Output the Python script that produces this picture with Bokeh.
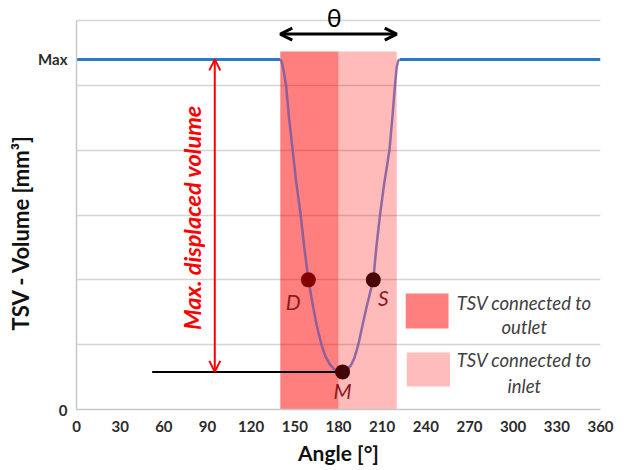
from bokeh.plotting import figure
from bokeh.models import Range1d, FixedTicker, Arrow, OpenHead, Label, Title
from bokeh.core.properties import value
from bokeh.embed import file_html
from bokeh.resources import INLINE

# Volume of one TSV over a full revolution (arbitrary units, Max = 5.4)
MAX_VOL = 5.4
flat_left_angle = [0, 140]
flat_right_angle = [222, 360]
cycle_angle = [140, 141, 142.5, 144, 146, 148.5, 151, 154, 156.5, 159.3, 162, 165,
               168.3, 171, 174, 177, 180, 182.8, 185.5, 188.5, 191, 193.6, 196.5,
               199.5, 203.9, 206, 208.5, 211.5, 215, 217, 218.8, 220, 221, 222]
cycle_volume = [5.4, 5.36, 5.2, 5.0, 4.5, 4.0, 3.5, 3.0, 2.5, 2.0, 1.65, 1.3,
                1.0, 0.82, 0.7, 0.62, 0.59, 0.58, 0.6, 0.68, 0.8, 1.0, 1.3,
                1.6, 2.0, 2.5, 3.0, 3.5, 4.0, 4.5, 5.0, 5.28, 5.38, 5.4]

# Port connection phases
outlet_phase = (140, 180)
inlet_phase = (180, 220)
phase_top = 5.52

# Marked states on the cycle
point_names = ["D", "S", "M"]
point_angle = [159.3, 203.9, 182.8]
point_volume = [2.0, 2.0, 0.58]
point_colors = ["#850000", "#4a0508", "#420508"]

x_ticks = list(range(0, 361, 30))
y_grid = [0, 1, 2, 3, 4, 5, 6]

FONT = "Lato"

p = figure(width=627, height=470, x_range=Range1d(0, 360), y_range=Range1d(0, 6 * 409 / 389),
           output_backend="svg", toolbar_location=None,
           min_border_left=76, min_border_right=27, min_border_top=0, min_border_bottom=61)
p.outline_line_color = None
p.background_fill_color = "white"
p.border_fill_color = "white"

# axes
p.xaxis.ticker = FixedTicker(ticks=x_ticks)
p.yaxis.ticker = FixedTicker(ticks=[0, MAX_VOL])
p.yaxis.major_label_overrides = {0: "0", MAX_VOL: "Max"}
p.yaxis.bounds = (0, 6)
p.ygrid.ticker = FixedTicker(ticks=y_grid)
p.xgrid.grid_line_color = None
p.ygrid.grid_line_color = "#d4d4d4"
p.ygrid.grid_line_width = 1.5
for ax in (p.xaxis, p.yaxis):
    ax.axis_line_color = "#c8c8c8"
    ax.axis_line_width = 1.5
    ax.major_tick_line_color = None
    ax.minor_tick_line_color = None
    ax.major_label_text_font = FONT
    ax.major_label_text_font_size = "15px"
    ax.major_label_text_font_style = "bold"
    ax.major_label_text_color = "#2b2b2b"
p.xaxis.axis_label = "Angle [°]"
p.xaxis.axis_label_text_font = FONT
p.xaxis.axis_label_text_font_size = "21px"
p.xaxis.axis_label_text_font_style = "bold"
p.xaxis.axis_label_text_color = "#111111"
p.xaxis.major_label_standoff = 5
p.yaxis.major_label_standoff = 3
p.xaxis.axis_label_standoff = 5

# vertical axis title, anchored from the bottom of the frame
p.add_layout(Title(text="TSV - Volume [mm³]", align="left", offset=79,
                   text_font=FONT, text_font_size="22px", text_font_style="bold",
                   text_color="#111111", standoff=3), "left")

# phase shading
p.quad(left=[outlet_phase[0]], right=[outlet_phase[1]], bottom=[0], top=[phase_top],
       fill_color="#ff0000", fill_alpha=0.5, line_color=None)
p.quad(left=[inlet_phase[0]], right=[inlet_phase[1]], bottom=[0], top=[phase_top],
       fill_color="#ff0000", fill_alpha=0.27, line_color=None)

# volume curve
p.line(flat_left_angle, [MAX_VOL, MAX_VOL], line_color="#2a7ac6", line_width=3)
p.line(flat_right_angle, [MAX_VOL, MAX_VOL], line_color="#2a7ac6", line_width=3)
p.line(cycle_angle, cycle_volume, line_color="#7a5aa0", line_width=2.5, line_alpha=0.85)

# minimum volume reference line
p.line([52, point_angle[2]], [point_volume[2], point_volume[2]], line_color="black", line_width=2)

# displaced volume arrow
p.add_layout(Arrow(x_start=95, y_start=point_volume[2], x_end=95, y_end=MAX_VOL,
                   line_color="red", line_width=2,
                   start=OpenHead(size=11, line_color="red", line_width=2),
                   end=OpenHead(size=11, line_color="red", line_width=2)))
p.text(x=[79.5], y=[2.96], text=["Max. displaced volume"], angle=1.5708,
       text_align="center", text_baseline="middle", text_color="red",
       text_font=value(FONT), text_font_size="23.5px", text_font_style="bold italic")

# theta arrow
p.add_layout(Arrow(x_start=140, y_start=5.79, x_end=220, y_end=5.79,
                   line_color="black", line_width=3,
                   start=OpenHead(size=12, line_color="black", line_width=3),
                   end=OpenHead(size=12, line_color="black", line_width=3)))
p.add_layout(Label(x=177, y=6.05, text="θ", text_align="center", text_baseline="middle",
                   text_font=FONT, text_font_size="25px", text_color="black"))

# state markers
p.scatter(point_angle, point_volume, size=15, fill_color=point_colors, line_color=None)
p.text(x=[148.8, 210.8, 182.8], y=[1.66, 1.73, 0.29], text=point_names,
       text_align="center", text_baseline="middle", text_color="#8b1a1a",
       text_font=value(FONT), text_font_size="21px", text_font_style="italic")

# key for the two phases
p.quad(left=[226.2, 226.9], right=[255.6, 256.6], bottom=[1.25, 0.355], top=[1.79, 0.88],
       fill_color=["#ff7f7f", "#ffbcbc"], line_color=None)
p.text(x=[307.6, 307.6, 307.6, 307.6], y=[1.64, 1.27, 0.76, 0.37],
       text=["TSV connected to", "outlet", "TSV connected to", "inlet"],
       text_align="center", text_baseline="middle", text_color="#404040",
       text_font=value(FONT), text_font_size="18.5px", text_font_style="italic")

open("out.html", "w").write(file_html(p, INLINE))
